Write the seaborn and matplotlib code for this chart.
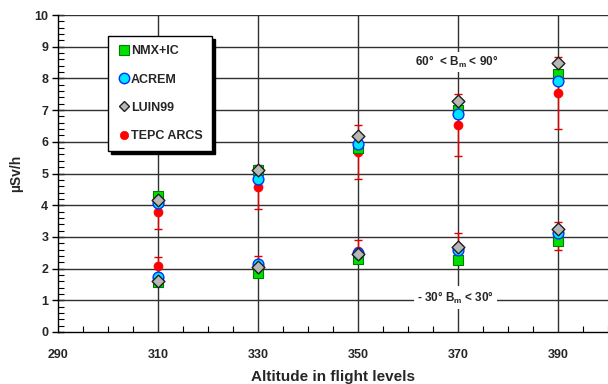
import matplotlib
matplotlib.use("Agg")
import matplotlib.pyplot as plt
from matplotlib.ticker import MultipleLocator
import numpy as np
import pandas as pd
import seaborn as sns

# Flight levels (hundreds of feet)
altitudes = [310, 330, 350, 370, 390]
x_tick_labels = [290, 310, 330, 350, 370, 390]

# Dose rates, high geomagnetic latitude band (60° < Bm < 90°), µSv/h
nmx_high = [4.30, 5.10, 5.82, 7.00, 8.14]
acrem_high = [4.07, 4.83, 5.93, 6.88, 7.92]
luin_high = [4.16, 5.11, 6.18, 7.29, 8.48]
tepc_high = [3.79, 4.57, 5.68, 6.53, 7.54]
tepc_high_err = [0.55, 0.69, 0.84, 0.98, 1.14]

# Dose rates, low geomagnetic latitude band (-30° < Bm < 30°), µSv/h
nmx_low = [1.58, 1.86, 2.30, 2.27, 2.87]
acrem_low = [1.74, 2.15, 2.48, 2.59, 3.12]
luin_low = [1.60, 2.05, 2.47, 2.68, 3.25]
tepc_low = [2.08, 2.10, 2.54, 2.68, 3.03]
tepc_low_err = [0.30, 0.30, 0.37, 0.44, 0.44]

series_names = ["NMX+IC", "ACREM", "LUIN99", "TEPC ARCS"]

sns.set_theme(style="white")
plt.rcParams["font.family"] = ["Liberation Sans", "DejaVu Sans"]
plt.rcParams["font.weight"] = "bold"

rows = []
for name, hi, lo in zip(series_names,
                        [nmx_high, acrem_high, luin_high, tepc_high],
                        [nmx_low, acrem_low, luin_low, tepc_low]):
    for a, v in zip(altitudes, hi):
        rows.append({"altitude": a, "dose": v, "model": name, "band": "high"})
    for a, v in zip(altitudes, lo):
        rows.append({"altitude": a, "dose": v, "model": name, "band": "low"})
df = pd.DataFrame(rows)

styles = {
    "NMX+IC": dict(marker="s", color="#00e000", edgecolor="#008000", s=48, lw=0.8),
    "ACREM": dict(marker="o", color="#00e5ff", edgecolor="#0030ff", s=60, lw=1.0),
    "LUIN99": dict(marker="D", color="#b8b8b8", edgecolor="#202020", s=42, lw=1.0),
    "TEPC ARCS": dict(marker="o", color="#ff0000", edgecolor="#ff0000", s=42, lw=0.5),
}

fig = plt.figure(figsize=(6.08, 3.84), dpi=100)
ax = fig.add_axes([58 / 608, 52 / 384, 550 / 608, 317 / 384])

# Grid lines
for y in range(1, 11):
    ax.axhline(y, color="#303030", lw=1.0, zorder=1)
for x in altitudes:
    ax.axvline(x, color="#303030", lw=1.0, zorder=1)

# TEPC measurement uncertainty
ax.errorbar(altitudes, tepc_high, yerr=tepc_high_err, fmt="none",
            ecolor="#e00000", elinewidth=1.0, capsize=3, capthick=1.0, zorder=2)
ax.errorbar(altitudes, tepc_low, yerr=tepc_low_err, fmt="none",
            ecolor="#e00000", elinewidth=1.0, capsize=3, capthick=1.0, zorder=2)

draw_order = ["TEPC ARCS", "NMX+IC", "ACREM", "LUIN99"]
for i, name in enumerate(draw_order):
    st = styles[name]
    sub = df[df["model"] == name]
    sns.scatterplot(data=sub, x="altitude", y="dose", ax=ax,
                    marker=st["marker"], color=st["color"],
                    edgecolor=st["edgecolor"], linewidth=st["lw"],
                    s=st["s"], zorder=3 + i, legend=False)

ax.set_xlim(290, 400)
ax.set_ylim(0, 10)
ax.set_xticks(x_tick_labels)
ax.set_xticklabels([str(v) for v in x_tick_labels])
ax.xaxis.set_minor_locator(MultipleLocator(5))
ax.yaxis.set_major_locator(MultipleLocator(1))
ax.yaxis.set_minor_locator(MultipleLocator(0.2))

ax.tick_params(axis="y", which="major", direction="inout", length=8, width=1,
               left=True, labelsize=9, pad=3, color="black")
ax.tick_params(axis="y", which="minor", direction="in", length=4, width=0.8,
               left=True, color="black")
ax.tick_params(axis="x", which="major", direction="in", length=0,
               bottom=True, labelsize=9, pad=12, color="black")
ax.tick_params(axis="x", which="minor", direction="in", length=4, width=0.8,
               bottom=True, color="black")
for lab in ax.get_xticklabels() + ax.get_yticklabels():
    lab.set_fontweight("bold")

for side in ["top", "right"]:
    ax.spines[side].set_visible(False)
for side in ["left", "bottom"]:
    ax.spines[side].set_color("black")
    ax.spines[side].set_linewidth(1.0)

ax.set_xlabel("Altitude in flight levels", fontsize=11, fontweight="bold", labelpad=7)
ax.set_ylabel("µSv/h", fontsize=10, fontweight="bold", labelpad=8)

# Latitude band labels
ax.text(369.7, 8.52, r"60°  < B$_\mathregular{m}$ < 90°", ha="center", va="center",
        fontsize=8.5, fontweight="bold", zorder=10,
        bbox=dict(facecolor="white", edgecolor="none", pad=1.5))
ax.text(369.5, 1.08, r"- 30° B$_\mathregular{m}$ < 30°", ha="center", va="center",
        fontsize=8.5, fontweight="bold", zorder=10,
        bbox=dict(facecolor="white", edgecolor="none", pad=2.5))

# Legend
handles = []
for name in series_names:
    st = styles[name]
    ms = {"s": 6.5, "o": 7.5, "D": 5.5}[st["marker"]]
    if name == "TEPC ARCS":
        ms = 6
    h = plt.Line2D([], [], linestyle="none", marker=st["marker"],
                   markerfacecolor=st["color"], markeredgecolor=st["edgecolor"],
                   markeredgewidth=st["lw"], markersize=ms, label=name)
    handles.append(h)
leg = ax.legend(handles=handles, loc="upper left", bbox_to_anchor=(0.091, 0.934),
                borderaxespad=0, frameon=True, fancybox=False,
                edgecolor="black", facecolor="white", framealpha=1,
                shadow={"color": "black", "alpha": 1},
                labelspacing=1.3, handletextpad=0.1, handlelength=1.0,
                borderpad=0.75, prop={"size": 9, "weight": "bold"})
leg.get_frame().set_linewidth(1.0)
leg.set_zorder(20)

fig.savefig("out.png", dpi=100)
